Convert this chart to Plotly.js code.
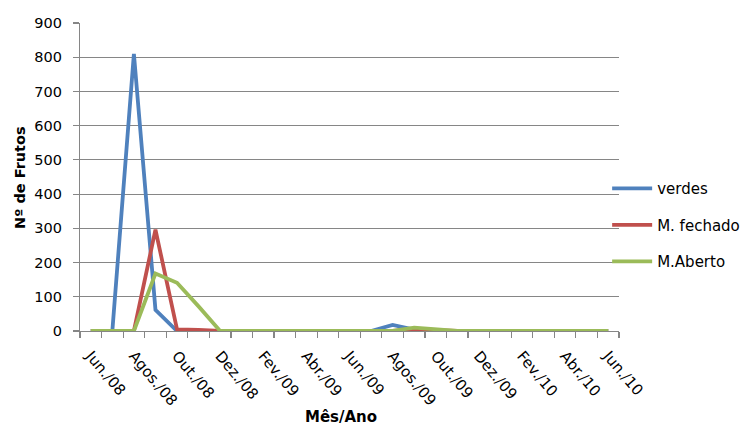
<!DOCTYPE html>
<html>
<head>
<meta charset="utf-8">
<script src="https://cdn.plot.ly/plotly-3.0.1.min.js"></script>
<style>
  html, body { margin: 0; padding: 0; background: #fff; }
  #chart { width: 747px; height: 426px; }
</style>
</head>
<body>
<div id="chart"></div>
<script>
// Monthly fruit counts, Jun/2008 – Jun/2010
const months = [
  'Jun./08', 'Jul./08', 'Agos./08', 'Set./08', 'Out./08', 'Nov./08', 'Dez./08',
  'Jan./09', 'Fev./09', 'Mar./09', 'Abr./09', 'Mai./09', 'Jun./09', 'Jul./09',
  'Agos./09', 'Set./09', 'Out./09', 'Nov./09', 'Dez./09', 'Jan./10', 'Fev./10',
  'Mar./10', 'Abr./10', 'Mai./10', 'Jun./10'
];
const verdes    = [0, 0, 810, 62, 0, 0, 0, 0, 0, 0, 0, 0, 0, 0, 18, 4, 0, 0, 0, 0, 0, 0, 0, 0, 0];
const mFechado  = [0, 0, 0, 296, 5, 3, 0, 0, 0, 0, 0, 0, 0, 0, 0, 5, 2, 0, 0, 0, 0, 0, 0, 0, 0];
const mAberto   = [0, 0, 0, 168, 141, 72, 0, 0, 0, 0, 0, 0, 0, 0, 0, 10, 5, 0, 0, 0, 0, 0, 0, 0, 0];

const idx = months.map((_, i) => i);
const labelIdx = idx.filter(i => i % 2 === 0);
const labelText = labelIdx.map(i => months[i]);

const series = [
  { name: 'verdes',     y: verdes,   color: '#4F81BD' },
  { name: 'M. fechado', y: mFechado, color: '#C0504D' },
  { name: 'M.Aberto',   y: mAberto,  color: '#9BBB59' }
];

const traces = series.map((s, k) => ({
  type: 'scatter',
  mode: 'lines',
  x: idx,
  y: s.y,
  name: s.name,
  legendgroup: 'g' + k,
  line: { color: s.color, width: 3.8 },
  hoverinfo: 'skip'
}));

const gray = '#868686';

const layout = {
  width: 747,
  height: 426,
  margin: { l: 80, r: 128.3, t: 23, b: 95.3, pad: 0, autoexpand: false },
  paper_bgcolor: '#ffffff',
  plot_bgcolor: '#ffffff',
  font: { family: 'DejaVu Sans, sans-serif', color: '#000000' },
  showlegend: true,
  legend: {
    x: 0.978, xanchor: 'left',
    y: 0.3435, yanchor: 'middle',
    bgcolor: 'rgba(0,0,0,0)',
    borderwidth: 0,
    font: { family: 'DejaVu Sans, sans-serif', size: 15, color: '#000' },
    tracegroupgap: 14,
    itemwidth: 40
  },
  xaxis: {
    range: [-0.5, months.length - 0.5],
    tickmode: 'array',
    tickvals: labelIdx,
    ticktext: labelText,
    ticks: '',
    tickangle: 50,
    tickfont: { family: 'DejaVu Sans, sans-serif', size: 15, color: '#000' },
    showgrid: false,
    zeroline: false,
    showline: true,
    linecolor: gray,
    linewidth: 1.2,
    ticklabelstandoff: 9,
    minor: {
      tickmode: 'linear',
      tick0: -0.5,
      dtick: 1,
      ticks: 'outside',
      ticklen: 6,
      tickwidth: 1.2,
      tickcolor: gray,
      showgrid: false
    },
    fixedrange: true
  },
  yaxis: {
    range: [0, 900],
    tickmode: 'linear',
    tick0: 0,
    dtick: 100,
    ticks: 'outside',
    ticklen: 6,
    tickwidth: 1.2,
    tickcolor: gray,
    tickfont: { family: 'DejaVu Sans, sans-serif', size: 14.5, color: '#000' },
    ticklabelstandoff: 8,
    showgrid: true,
    gridcolor: gray,
    gridwidth: 1.2,
    zeroline: false,
    showline: true,
    linecolor: gray,
    linewidth: 1.2,
    fixedrange: true
  },
  annotations: [
    {
      text: 'Mês/Ano',
      xref: 'paper', yref: 'paper',
      x: 0.4845, y: -0.278,
      xanchor: 'center', yanchor: 'middle',
      showarrow: false,
      font: { family: 'DejaVu Sans, sans-serif', size: 15, color: '#000', weight: 'bold' }
    },
    {
      text: 'Nº de Frutos',
      xref: 'paper', yref: 'paper',
      x: -0.1114, y: 0.5,
      xanchor: 'center', yanchor: 'middle',
      textangle: -90,
      showarrow: false,
      font: { family: 'DejaVu Sans, sans-serif', size: 14.5, color: '#000', weight: 'bold' }
    }
  ]
};

Plotly.newPlot('chart', traces, layout, { staticPlot: true, displayModeBar: false });
</script>
</body>
</html>
